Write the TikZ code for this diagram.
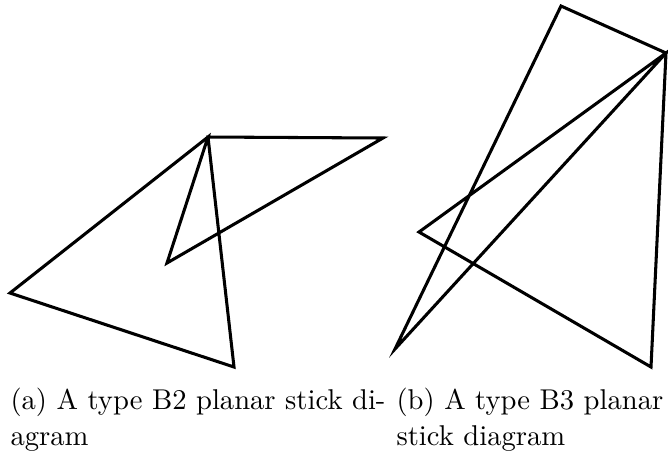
\documentclass[tikz,border=0pt]{standalone}
\usepackage{tikz}
\definecolor{ink}{HTML}{000000}
\tikzset{
  stick/.style  ={draw=ink, line width=1.1pt, line join=miter},
  subcap/.style ={font=\fontsize{10.3pt}{13.2pt}\selectfont, text=ink,
                  align=left, inner sep=0pt, anchor=north west},
}
\begin{document}
\begin{tikzpicture}[x=0.36pt,y=-0.36pt]
  \useasboundingbox (0,0) rectangle (668,457);
  % (a) type B2
  \coordinate (a1) at (10,293);
  \coordinate (a2) at (234,367);
  \coordinate (a3) at (208,137);
  \coordinate (a4) at (383,138);
  \coordinate (a5) at (167,263);
  \draw[stick] (a1) -- (a2) -- (a3) -- (a4) -- (a5) -- (a3) -- cycle;
  \node[subcap] (capa) at (10,387) {(a) A type B2 planar stick di-\\agram};
  % (b) type B3
  \coordinate (b1) at (561,6);
  \coordinate (b2) at (666,53);
  \coordinate (b3) at (651,367);
  \coordinate (b4) at (419,232);
  \coordinate (b5) at (395,349);
  \draw[stick] (b1) -- (b2) -- (b3) -- (b4) -- (b2) -- (b5) -- cycle;
  \node[subcap] (capb) at (396,387) {(b) A type B3 planar\\stick diagram};
\end{tikzpicture}
\end{document}
